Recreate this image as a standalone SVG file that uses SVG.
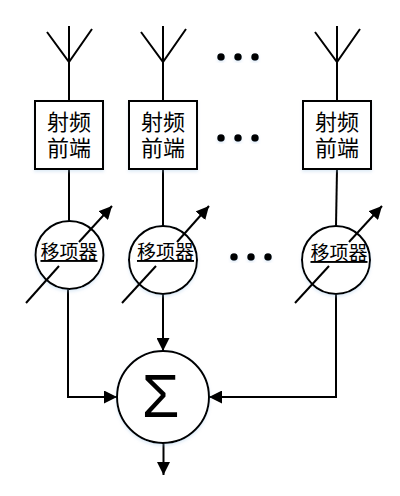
<svg xmlns="http://www.w3.org/2000/svg" width="400" height="496" viewBox="0 0 400 496">
<style>
.w{stroke:#000;stroke-width:2;fill:none;stroke-linecap:butt;stroke-linejoin:miter}
.s{fill:#fff;stroke:#000;stroke-width:2;filter:url(#sh)}
.t{font-family:"Liberation Serif","Noto Sans CJK SC",serif;font-size:22px;text-anchor:middle;fill:#000}
.p{font-family:"Liberation Serif","Noto Sans CJK SC",serif;font-size:19px;text-anchor:middle;fill:#000;text-decoration:underline;text-decoration-color:#666}
.d{fill:#000;filter:url(#sh)}
</style>
<defs>
<filter id="sh" x="-20%" y="-20%" width="140%" height="140%"><feDropShadow dx="0" dy="2" stdDeviation="1.5" flood-color="#9dc3e6" flood-opacity="0.3"/></filter>
<marker id="a" viewBox="0 0 13 13" markerUnits="userSpaceOnUse" markerWidth="13" markerHeight="13" refX="13" refY="6.5" orient="auto"><path d="M0 0L13 6.5L0 13Z" fill="#000"/></marker>
</defs>
<g id="connectors">
<path class="w" d="M69 26V101M47 32L69 62L92 29"/>
<path class="w" d="M163 26V101M141 32L163 62L186 29"/>
<path class="w" d="M337 26V101M315 32L337 62L360 29"/>
<path class="w" d="M69 169V221"/>
<path class="w" d="M163 169V226"/>
<path class="w" d="M337 169L336 226"/>
<path class="w" d="M68 289V397H117" marker-end="url(#a)"/>
<path class="w" d="M163 294V351" marker-end="url(#a)"/>
<path class="w" d="M336 294V397H209" marker-end="url(#a)"/>
<path class="w" d="M163.500 443V475" marker-end="url(#a)"/>
</g>
<g id="rf1"><rect class="s" x="35" y="101" width="68" height="68"/><text class="t" x="69" y="130">射频</text><text class="t" x="69" y="156">前端</text></g>
<g id="rf2"><rect class="s" x="129" y="101" width="68" height="68"/><text class="t" x="163" y="130">射频</text><text class="t" x="163" y="156">前端</text></g>
<g id="rf3"><rect class="s" x="303" y="101" width="68" height="68"/><text class="t" x="337" y="130">射频</text><text class="t" x="337" y="156">前端</text></g>
<g id="ps1"><circle class="s" cx="69.500" cy="255" r="34"/><text class="p" x="69" y="259">移项器</text><path class="w" d="M26 303L59 266"/><path class="w" d="M79 242L112 206" marker-end="url(#a)"/></g>
<g id="ps2"><circle class="s" cx="163" cy="260" r="34"/><text class="p" x="165.500" y="259">移项器</text><path class="w" d="M122 303L156 266"/><path class="w" d="M177 242L209 206" marker-end="url(#a)"/></g>
<g id="ps3"><circle class="s" cx="336" cy="260" r="34"/><text class="p" x="339" y="260">移项器</text><path class="w" d="M295 303L329 266"/><path class="w" d="M349 242L382 206" marker-end="url(#a)"/></g>
<g id="sum"><circle class="s" cx="163" cy="397" r="46"/><text x="160.500" y="417" font-family="Liberation Sans,sans-serif" font-size="61" text-anchor="middle">Σ</text></g>
<g id="dots1"><circle class="d" cx="221" cy="57" r="3.800"/><circle class="d" cx="238" cy="57" r="3.800"/><circle class="d" cx="255" cy="57" r="3.800"/></g>
<g id="dots2"><circle class="d" cx="221" cy="138" r="3.800"/><circle class="d" cx="238" cy="138" r="3.800"/><circle class="d" cx="255" cy="138" r="3.800"/></g>
<g id="dots3"><circle class="d" cx="234" cy="257" r="3.800"/><circle class="d" cx="251" cy="257" r="3.800"/><circle class="d" cx="268" cy="257" r="3.800"/></g>
</svg>
